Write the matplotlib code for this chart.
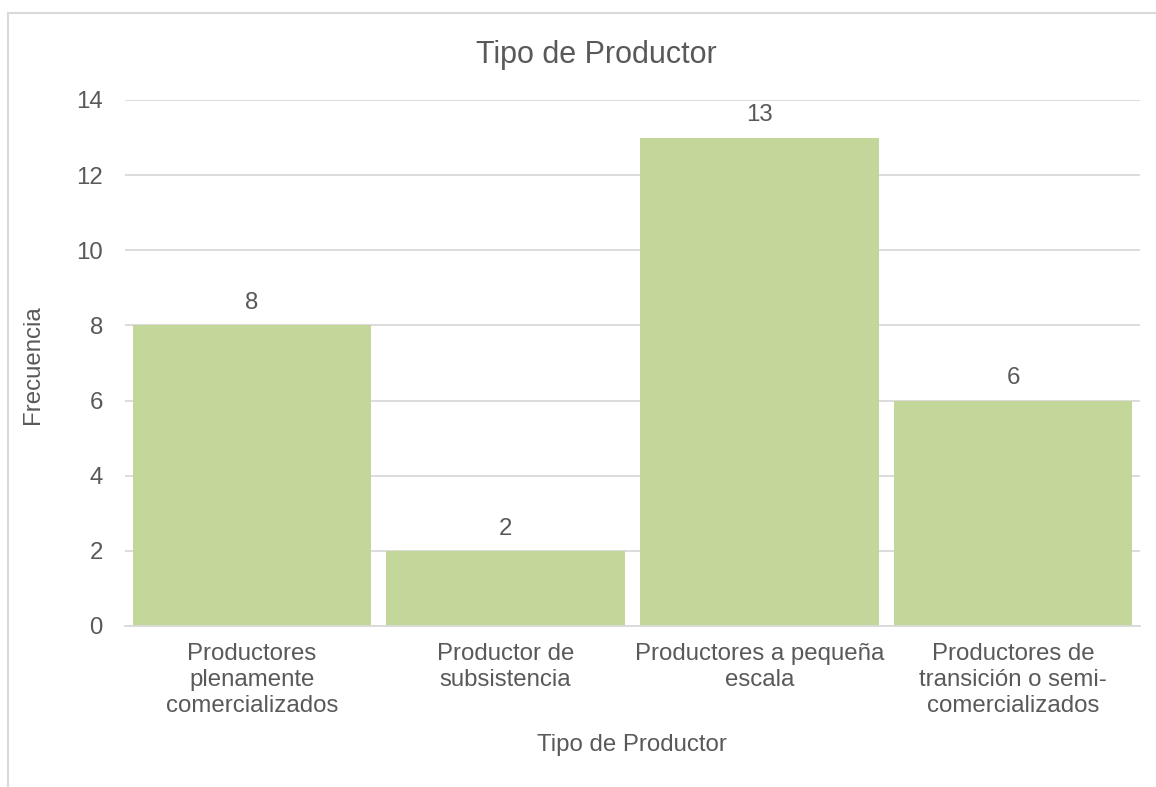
import matplotlib
matplotlib.use("Agg")
import matplotlib.pyplot as plt
from matplotlib.patches import Rectangle

categories = ["Productores\nplenamente\ncomercializados",
              "Productor de\nsubsistencia",
              "Productores a pequeña\nescala",
              "Productores de\ntransición o semi-\ncomercializados"]
values = [8, 2, 13, 6]
yticks = [0, 2, 4, 6, 8, 10, 12, 14]

plt.rcParams['font.family'] = ['Liberation Sans', 'DejaVu Sans']
TXT = '#595959'
GRID = '#D9D9D9'
BAR = '#C4D79B'
FS = 17.3

fig = plt.figure(figsize=(11.56, 7.87), dpi=100)
fig.patches.append(Rectangle((8/1156, -0.1), 1.2, 1.1 - 13/787, transform=fig.transFigure,
                             fill=False, edgecolor=GRID, linewidth=1.5))
ax = fig.add_axes([125/1156, 1 - 626/787, (1140-125)/1156, (626-100)/787])

x = list(range(len(categories)))
bars = ax.bar(x, values, width=0.94, color=BAR, zorder=2)
ax.set_xlim(-0.5, len(categories) - 0.5)
ax.set_ylim(0, 14)
ax.set_yticks(yticks)
ax.set_xticks(x)
ax.set_xticklabels(categories, fontsize=FS, color=TXT, linespacing=1.25)
ax.tick_params(axis='y', labelsize=FS, colors=TXT, length=0, pad=16)
ax.tick_params(axis='x', length=0, pad=12)
ax.yaxis.grid(True, color=GRID, linewidth=1.3, zorder=0)
for s in ['top', 'right', 'left']:
    ax.spines[s].set_visible(False)
ax.spines['bottom'].set_color(GRID)
ax.spines['bottom'].set_linewidth(1.3)

for xi, v in zip(x, values):
    ax.annotate(str(v), (xi, v), xytext=(0, 8), textcoords='offset points',
                ha='center', va='bottom', fontsize=FS, color=TXT)

fig.text(596/1156, 1 - 55/787, "Tipo de Productor", ha='center', va='center', fontsize=22, color=TXT)
fig.text(632/1156, 1 - 745/787, "Tipo de Productor", ha='center', va='center', fontsize=FS, color=TXT)
fig.text(33/1156, 1 - 365/787, "Frecuencia", ha='center', va='center', rotation=90, fontsize=FS, color=TXT)

fig.savefig("out.png", dpi=100)
